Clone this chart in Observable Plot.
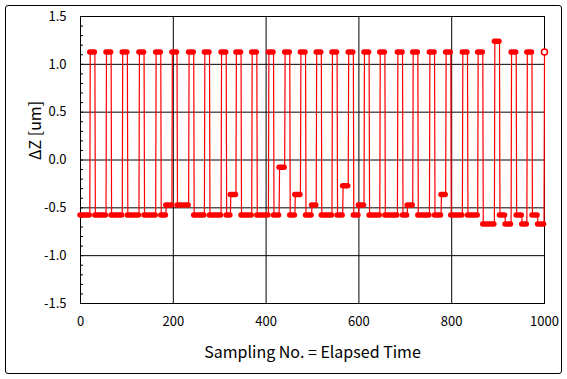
<!DOCTYPE html>
<html><head><meta charset="utf-8">
<script src="https://cdn.jsdelivr.net/npm/d3@7"></script>
<script src="https://cdn.jsdelivr.net/npm/@observablehq/plot@0.6"></script>
<style>
body{margin:0;background:#fff;}
#wrap{position:relative;width:567px;height:379px;background:#fff;}
#wrap svg{position:absolute;left:0;top:0;}
#border{position:absolute;left:5px;top:5px;width:557px;height:369px;border:1px solid #000;border-radius:3px;box-sizing:border-box;pointer-events:none;}
</style></head><body>
<div id="wrap"><div id="border"></div></div>
<script>
// Plateau segments of the ΔZ signal (sample index ranges and level in um)
const segStart = [0,21,32,56,67,91,102,127,138,163,174,185,198,209,234,245,268,279,304,315,324,336,347,370,381,406,417,429,441,452,463,475,486,499,509,520,543,554,566,578,589,600,612,623,646,657,684,695,705,717,728,753,764,778,788,799,824,835,857,868,893,904,916,929,940,952,963,974,986];
const segEnd   = [20,31,55,66,90,101,126,137,162,173,184,197,208,233,244,267,278,303,314,323,335,346,369,380,405,416,428,440,451,462,474,485,498,508,519,542,553,565,577,588,599,611,622,645,656,683,694,704,716,727,752,763,777,787,798,823,834,856,867,892,903,915,928,939,951,962,973,985,999];
const segLevel = [-0.575,1.13,-0.575,1.13,-0.575,1.13,-0.575,1.13,-0.575,1.13,-0.575,-0.47,1.13,-0.47,1.13,-0.575,1.13,-0.575,1.13,-0.575,-0.36,1.13,-0.575,1.13,-0.575,1.13,-0.575,-0.075,1.13,-0.575,-0.36,1.13,-0.575,-0.47,1.13,-0.575,1.13,-0.575,-0.27,1.13,-0.575,-0.47,1.13,-0.575,1.13,-0.575,1.13,-0.575,-0.47,1.13,-0.575,1.13,-0.575,-0.36,1.13,-0.575,1.13,-0.575,1.13,-0.67,1.24,-0.575,-0.67,1.13,-0.575,-0.67,1.13,-0.575,-0.67];
const lastSample = [1000];
const lastLevel = [1.13];

const xTicks = [0,200,400,600,800,1000];
const yTicks = [-1.5,-1.0,-0.5,0,0.5,1.0,1.5];
const yMinor = d3.range(-15,16).map(i => i/10);
const xTitle = "Sampling No. = Elapsed Time";
const yTitle = "ΔZ [um]";
const red = "#ff0000";

const segs = segStart.map((s,i) => ({x1: s, x2: segEnd[i], y: segLevel[i]}));
const pts = [];
segs.forEach(d => { pts.push({x: d.x1, y: d.y}); if (d.x2 !== d.x1) pts.push({x: d.x2, y: d.y}); });
const last = lastSample.map((s,i) => ({x: s, y: lastLevel[i]}));
pts.push(...last);

const font = "'Noto Sans CJK KR', 'Noto Sans', sans-serif";
const chart = Plot.plot({
  width: 567, height: 379,
  marginLeft: 80, marginRight: 23, marginTop: 16, marginBottom: 76,
  x: {domain: [0,1000], label: null},
  y: {domain: [-1.5,1.5], label: null},
  style: {fontFamily: font, fontSize: "13px", color: "#000", background: "transparent"},
  marks: [
    Plot.gridX(xTicks.filter(d => d > 0 && d < 1000), {stroke: "#000", strokeOpacity: 1}),
    Plot.gridY(yTicks.filter(d => d > -1.5 && d < 1.5), {stroke: "#000", strokeOpacity: 1}),
    Plot.axisY(yMinor, {tickSize: 3, dx: 3, tickFormat: () => "", label: null, stroke: "#000"}),
    Plot.axisX(xTicks, {tickSize: 0, tickPadding: 13, tickFormat: d => String(d), label: null, fill: "#000"}),
    Plot.axisY(yTicks, {tickSize: 0, tickPadding: 14, tickFormat: d => d.toFixed(1), label: null, fill: "#000"}),
    Plot.frame({stroke: "#000"}),
    Plot.line(pts, {x: "x", y: "y", stroke: red, strokeWidth: 1.2}),
    Plot.ruleY(segs, {x1: "x1", x2: "x2", y: "y", stroke: red, strokeWidth: 5.5, strokeLinecap: "round"}),
    Plot.dot(last, {x: "x", y: "y", r: 3, stroke: red, fill: "#fff", strokeWidth: 1.5}),
    Plot.text([xTitle], {frameAnchor: "bottom", dy: 54, fontSize: 16, fill: "#000"}),
    Plot.text([yTitle], {frameAnchor: "left", dx: -45, rotate: -90, fontSize: 16, fill: "#000"})
  ]
});
document.getElementById("wrap").prepend(chart);
</script>
</body></html>
